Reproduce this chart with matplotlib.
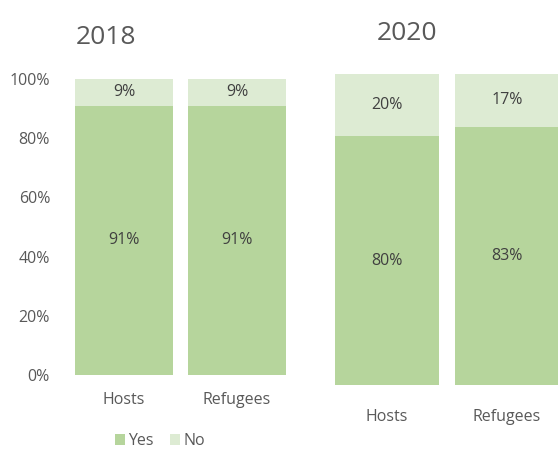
import matplotlib
matplotlib.use("Agg")
import matplotlib.pyplot as plt
from matplotlib.patches import Patch

plt.rcParams['font.family'] = ['Open Sans', 'DejaVu Sans']

years = ["2018", "2020"]
categories = ["Hosts", "Refugees"]
yes_2018 = [91, 91]
no_2018 = [9, 9]
yes_2020 = [80, 83]
no_2020 = [20, 17]
yticks = [0, 20, 40, 60, 80, 100]
ytick_labels = ["0%", "20%", "40%", "60%", "80%", "100%"]
legend_labels = ["Yes", "No"]

YES_C = "#b6d59c"
NO_C = "#ddebd3"
TXT = "#595959"
VAL = "#404040"

W, H = 558, 449
fig = plt.figure(figsize=(W / 100, H / 100), dpi=100)
fig.patch.set_facecolor("white")

def px_axes(x0, x1, ytop, ybot):
    return fig.add_axes([x0 / W, (H - ybot) / H, (x1 - x0) / W, (ybot - ytop) / H])

bw = 0.867

def draw(ax, yes, no, label_pad):
    x = list(range(len(categories)))
    ax.bar(x, yes, width=bw, color=YES_C, linewidth=0)
    ax.bar(x, no, width=bw, bottom=yes, color=NO_C, linewidth=0)
    for i in x:
        ax.text(i, yes[i] / 2, f"{yes[i]}%", ha="center", va="center",
                fontsize=11.5, color=VAL)
        ax.text(i, yes[i] + no[i] / 2, f"{no[i]}%", ha="center", va="center",
                fontsize=11.5, color=VAL)
    ax.set_xlim(-bw / 2, len(categories) - 1 + bw / 2)
    ax.set_ylim(0, 100)
    for s in ax.spines.values():
        s.set_visible(False)
    ax.set_xticks(x)
    ax.set_xticklabels(categories, fontsize=11.5, color=TXT)
    ax.tick_params(axis="x", length=0, pad=label_pad)

# 2018 panel
ax1 = px_axes(75, 286, 79, 375)
draw(ax1, yes_2018, no_2018, 12)
ax1.set_yticks(yticks)
ax1.set_yticklabels(ytick_labels, fontsize=11.5, color=TXT)
ax1.tick_params(axis="y", length=0, pad=18)

# 2020 panel
ax2 = px_axes(335, 559, 74, 385)
draw(ax2, yes_2020, no_2020, 17)
ax2.set_yticks([])

fig.text(106 / W, 1 - 38 / H, years[0], fontsize=19, color=TXT, ha="center", va="center")
fig.text(407 / W, 1 - 33 / H, years[1], fontsize=19, color=TXT, ha="center", va="center")

handles = [Patch(facecolor=YES_C, edgecolor="none"), Patch(facecolor=NO_C, edgecolor="none")]
fig.legend(handles, legend_labels, loc="center", bbox_to_anchor=(160 / W, 1 - 441 / H),
           ncol=2, frameon=False, fontsize=11.5, handlelength=0.65, handleheight=0.65,
           handletextpad=0.2, columnspacing=1.0, labelcolor=TXT,
           borderpad=0, borderaxespad=0)

fig.savefig("out.png", dpi=100, facecolor="white")
